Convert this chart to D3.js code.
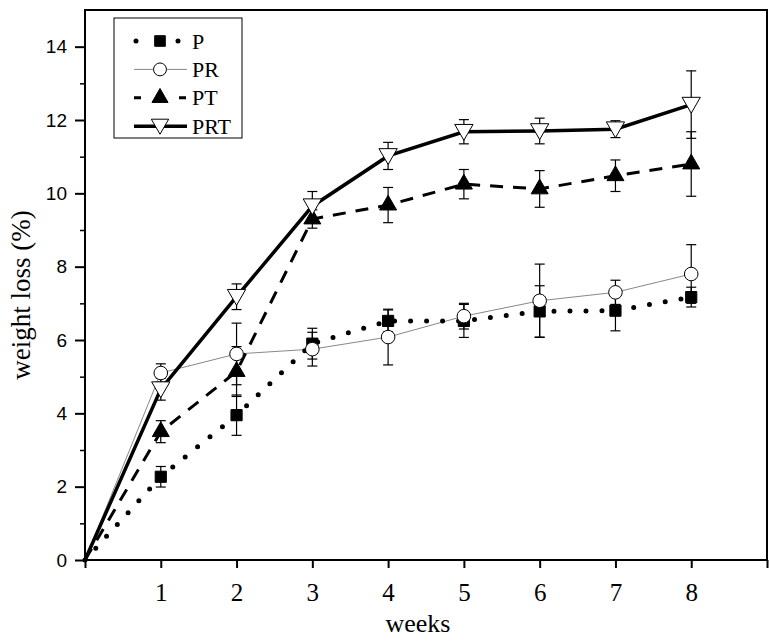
<!DOCTYPE html>
<html><head><meta charset="utf-8">
<script src="https://cdn.jsdelivr.net/npm/d3@7"></script>
<style>body{margin:0;background:#fff}svg{display:block}</style>
</head><body>
<svg id="c" width="769" height="641"></svg>
<script>
const weeks = [0,1,2,3,4,5,6,7,8];
const P      = [0, 2.27, 3.95, 5.90, 6.52, 6.52, 6.78, 6.80, 7.17];
const P_err  = [0, 0.28, 0.55, 0.42, 0.30, 0.45, 0.70, 0.55, 0.27];
const PR     = [0, 5.10, 5.62, 5.75, 6.08, 6.65, 7.07, 7.30, 7.80];
const PR_err = [0, 0.25, 0.84, 0.46, 0.76, 0.35, 1.00, 0.33, 0.80];
const PT     = [0, 3.50, 5.14, 9.30, 9.68, 10.25, 10.12, 10.48, 10.80];
const PT_err = [0, 0.30, 0.68, 0.25, 0.48, 0.40, 0.50, 0.43, 0.88];
const PRT    = [0, 4.66, 7.18, 9.65, 11.02, 11.68, 11.70, 11.75, 12.42];
const PRT_err= [0, 0.30, 0.35, 0.40, 0.37, 0.33, 0.35, 0.23, 0.92];
const xTickLabels = ["1","2","3","4","5","6","7","8"];
const yTickLabels = ["0","2","4","6","8","10","12","14"];
const seriesNames = ["P","PR","PT","PRT"];

const svg = d3.select("#c");
const L = 85, R = 767, T = 10, B = 560;
const x = d3.scaleLinear().domain([0,9]).range([L,R]);
const y = d3.scaleLinear().domain([0,15]).range([B,T]);

const styles = {
  P:   {w:5, dash:"0 16", cap:"round", color:"#000", sym:d3.symbolSquare, size:125, fill:"#000", rot:0},
  PR:  {w:1, dash:null, cap:"butt", color:"#888", sym:d3.symbolCircle, size:145, fill:"#fff", rot:0},
  PT:  {w:3, dash:"13 10", cap:"butt", color:"#000", sym:d3.symbolTriangle, size:125, fill:"#000", rot:0},
  PRT: {w:3.5, dash:null, cap:"butt", color:"#000", sym:d3.symbolTriangle, size:145, fill:"#fff", rot:180}
};
const data = {P:[P,P_err], PR:[PR,PR_err], PT:[PT,PT_err], PRT:[PRT,PRT_err]};

// Frame
svg.append("rect").attr("x",L).attr("y",T).attr("width",R-L).attr("height",B-T)
  .attr("fill","none").attr("stroke","#000").attr("stroke-width",2);

// axes
const xAxis = d3.axisBottom(x).tickValues(d3.range(0,10)).tickSize(8)
  .tickFormat(d => (d>=1 && d<=8) ? xTickLabels[d-1] : "");
const gx = svg.append("g").attr("transform",`translate(0,${B})`).call(xAxis);
gx.select(".domain").remove();
gx.selectAll(".tick line").attr("stroke","#000").attr("stroke-width",2);
gx.selectAll(".tick text").attr("font-family","Liberation Serif, serif").attr("font-size",25)
  .attr("fill","#000").attr("dy","1.2em");

const yAxis = d3.axisLeft(y).tickValues(d3.range(0,15,2)).tickSize(10)
  .tickFormat((d,i) => yTickLabels[i]);
const gy = svg.append("g").attr("transform",`translate(${L},0)`).call(yAxis);
gy.select(".domain").remove();
gy.selectAll(".tick line").attr("stroke","#000").attr("stroke-width",2);
gy.selectAll(".tick text").attr("font-family","Liberation Sans, Arial, sans-serif").attr("font-size",19)
  .attr("fill","#000").attr("dx","-5px");
const yMinor = d3.axisLeft(y).tickValues(d3.range(1,15,2)).tickSize(5).tickFormat("");
const gym = svg.append("g").attr("transform",`translate(${L},0)`).call(yMinor);
gym.select(".domain").remove();
gym.selectAll(".tick line").attr("stroke","#000").attr("stroke-width",1.5);

// axis titles
svg.append("text").attr("x",418).attr("y",632).attr("text-anchor","middle")
  .attr("font-family","Liberation Serif, serif").attr("font-size",26).text("weeks");
svg.append("text").attr("transform",`translate(30,295) rotate(-90)`).attr("text-anchor","middle")
  .attr("font-family","Liberation Serif, serif").attr("font-size",27).text("weight loss (%)");

// lines
const line = d3.line().x((d,i)=>x(weeks[i])).y(d=>y(d));
const order = ["PR","P","PT","PRT"];
order.forEach(name => {
  const s = styles[name];
  svg.append("path").datum(data[name][0]).attr("d",line).attr("fill","none")
    .attr("stroke",s.color).attr("stroke-width",s.w).attr("stroke-dasharray",s.dash)
    .attr("stroke-linecap",s.cap);
});

// error bars
order.forEach(name => {
  const [v,e] = data[name];
  const g = svg.append("g").attr("stroke","#000").attr("stroke-width",1.2);
  weeks.forEach((w,i) => {
    if (w===0) return;
    const cx = x(w), y1 = y(v[i]+e[i]), y0 = y(v[i]-e[i]);
    g.append("line").attr("x1",cx).attr("x2",cx).attr("y1",y1).attr("y2",y0);
    g.append("line").attr("x1",cx-5).attr("x2",cx+5).attr("y1",y1).attr("y2",y1);
    g.append("line").attr("x1",cx-5).attr("x2",cx+5).attr("y1",y0).attr("y2",y0);
  });
});

// markers
["P","PR","PT","PRT"].forEach(name => {
  const s = styles[name];
  const [v] = data[name];
  const sym = d3.symbol().type(s.sym).size(s.size);
  weeks.forEach((w,i) => {
    if (w===0) return;
    svg.append("path").attr("d",sym())
      .attr("transform",`translate(${x(w)},${y(v[i]) + (s.rot?-2:0)}) rotate(${s.rot})`)
      .attr("fill",s.fill).attr("stroke","#000").attr("stroke-width",1);
  });
});

// legend
const lg = svg.append("g");
lg.append("rect").attr("x",114).attr("y",18).attr("width",128).attr("height",120)
  .attr("fill","#fff").attr("stroke","#000").attr("stroke-width",1);
seriesNames.forEach((name,i) => {
  const s = styles[name];
  const yy = 41 + i*28.4;
  lg.append("line").attr("x1",134).attr("x2",187).attr("y1",yy).attr("y2",yy)
    .attr("stroke",s.color).attr("stroke-width",s.w)
    .attr("stroke-dasharray", name==="P" ? "0 21" : (name==="PT" ? "7 38" : s.dash))
    .attr("stroke-linecap",s.cap)
    .attr("transform", name==="P" ? "translate(2,0)" : null);
  lg.append("path").attr("d",d3.symbol().type(s.sym).size(s.size*0.9)())
    .attr("transform",`translate(160,${yy + (s.rot?-2:0)}) rotate(${s.rot})`)
    .attr("fill",s.fill).attr("stroke","#000").attr("stroke-width",1);
  lg.append("text").attr("x",192).attr("y",yy+7.5).attr("font-family","Liberation Serif, serif")
    .attr("font-size",22).text(name);
});
</script>
</body></html>
